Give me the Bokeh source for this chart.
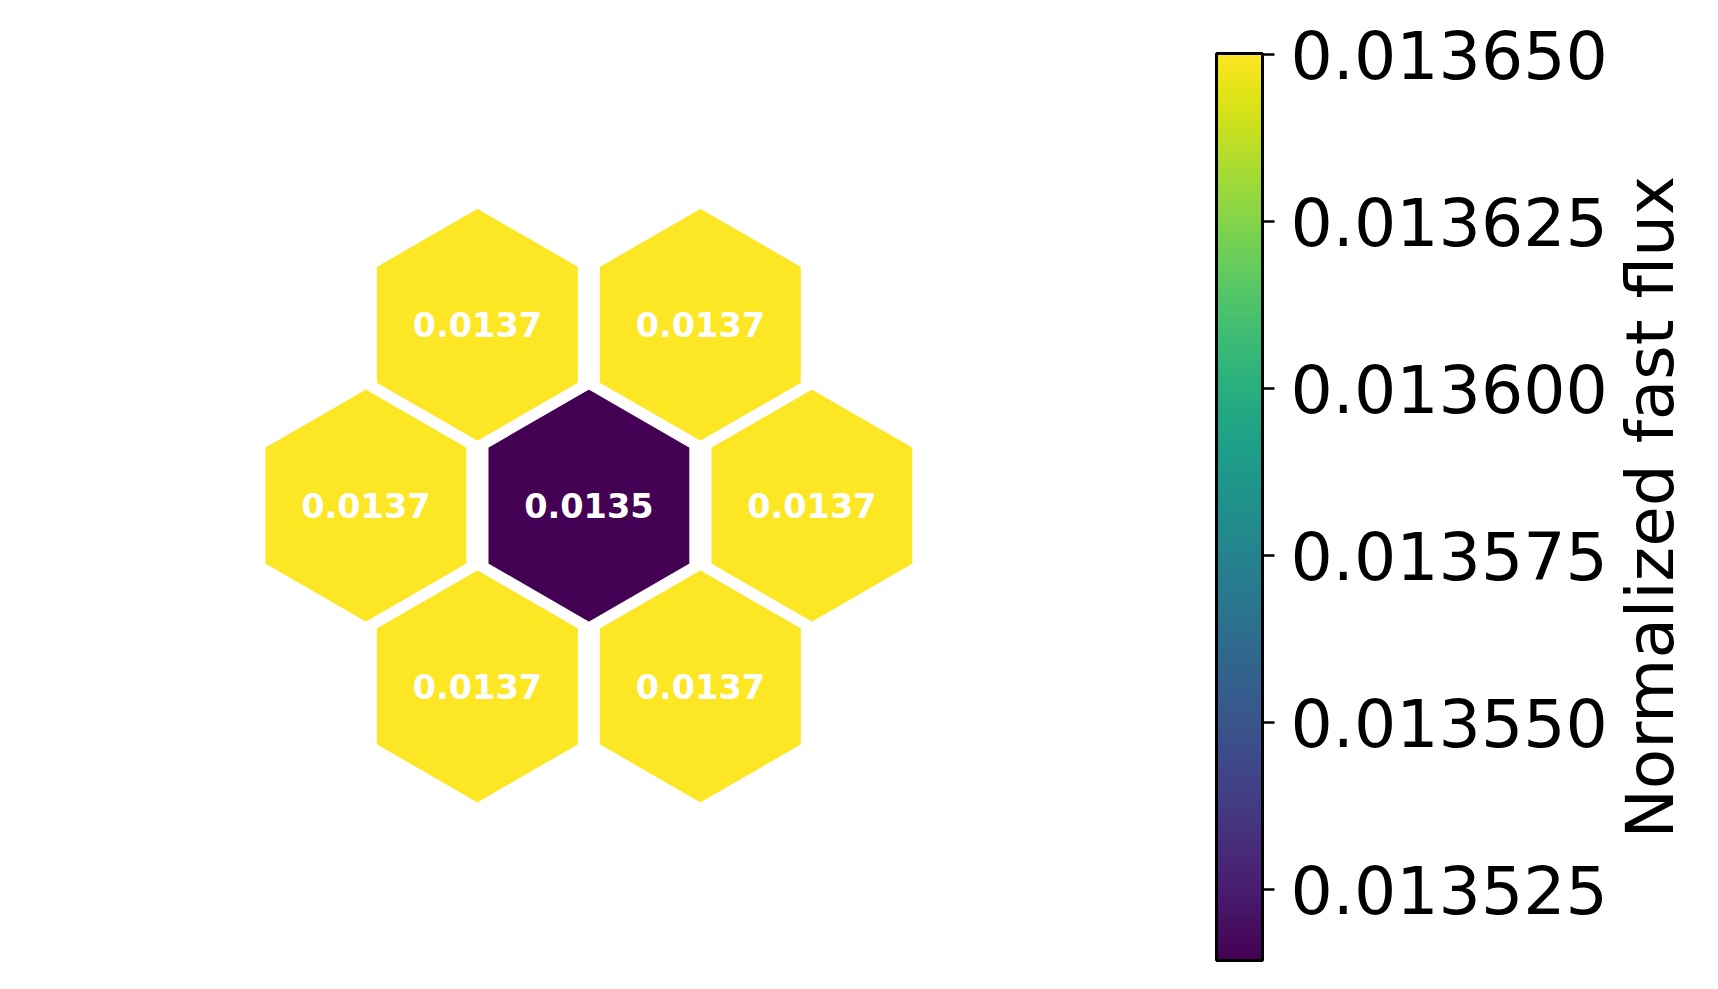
import math
from bokeh.plotting import figure
from bokeh.models import (ColumnDataSource, LinearColorMapper, ColorBar, FixedTicker,
                          PrintfTickFormatter, Label, Range1d)
from bokeh.palettes import Viridis256
from bokeh.core.properties import value
from bokeh.embed import file_html
from bokeh.resources import INLINE

# ---- data ----
hex_col = [-0.5, 0.5, -1.0, 0.0, 1.0, -0.5, 0.5]   # lattice column (offset rows)
hex_row = [1, 1, 0, 0, 0, -1, -1]                   # lattice row
flux = [0.0136502, 0.0136502, 0.0136502, 0.0135144, 0.0136502, 0.0136502, 0.0136502]
cbar_ticks = [0.013525, 0.013550, 0.013575, 0.013600, 0.013625, 0.013650]
cbar_title = "Normalized fast flux"

# ---- layout constants (pixels) ----
W, H = 1718, 989
UX, UY = 223.0, 180.8          # pixels per lattice unit
CX, CY = 588.4, 505.1          # canvas position of lattice origin (from top-left)
R = 117.4                      # hexagon circumradius in px

mapper = LinearColorMapper(palette=Viridis256, low=min(flux), high=max(flux))

xs, ys = [], []
for c, r in zip(hex_col, hex_row):
    px, py = [], []
    for k in range(6):
        a = math.radians(90 + 60 * k)
        px.append(c + R * math.cos(a) / UX)
        py.append(r + R * math.sin(a) / UY)
    xs.append(px)
    ys.append(py)

src = ColumnDataSource(dict(xs=xs, ys=ys, x=hex_col, y=hex_row, flux=flux,
                            label=[f"{v:.4f}" for v in flux]))

p = figure(width=W, height=H, output_backend="svg", toolbar_location=None,
           x_axis_location=None, y_axis_location=None, min_border=0,
           x_range=Range1d(-CX / UX, (W - CX) / UX),
           y_range=Range1d(-(H - CY) / UY, CY / UY))
p.grid.visible = False
p.outline_line_color = None
p.background_fill_color = "white"
p.border_fill_color = "white"

p.patches("xs", "ys", source=src, fill_color={"field": "flux", "transform": mapper},
          line_color="white", line_width=2.5, line_join="round")
p.text("x", "y", text="label", source=src, text_color="white",
       text_font=value("DejaVu Sans"), text_font_style="bold", text_font_size="33.5px",
       text_align="center", text_baseline="middle")

cb = ColorBar(color_mapper=mapper, ticker=FixedTicker(ticks=cbar_ticks),
              formatter=PrintfTickFormatter(format="%.6f"),
              width=46, height=907, location=(1216, 29),
              padding=0, margin=0,
              bar_line_color="black", bar_line_width=3,
              major_tick_in=0, major_tick_out=12,
              major_tick_line_color="black", major_tick_line_width=2.5,
              minor_tick_line_color=None,
              label_standoff=16,
              major_label_text_font="DejaVu Sans",
              major_label_text_font_size="66.5px", major_label_text_color="black",
              background_fill_alpha=0, border_line_color=None)
p.add_layout(cb, "center")

p.add_layout(Label(x=1650, y=H - 506.8, x_units="screen", y_units="screen",
                   text=cbar_title, angle=math.pi / 2, text_align="center",
                   text_baseline="alphabetic", text_font="DejaVu Sans",
                   text_font_size="66px", text_color="black"))

open("out.html", "w").write(file_html(p, INLINE))
